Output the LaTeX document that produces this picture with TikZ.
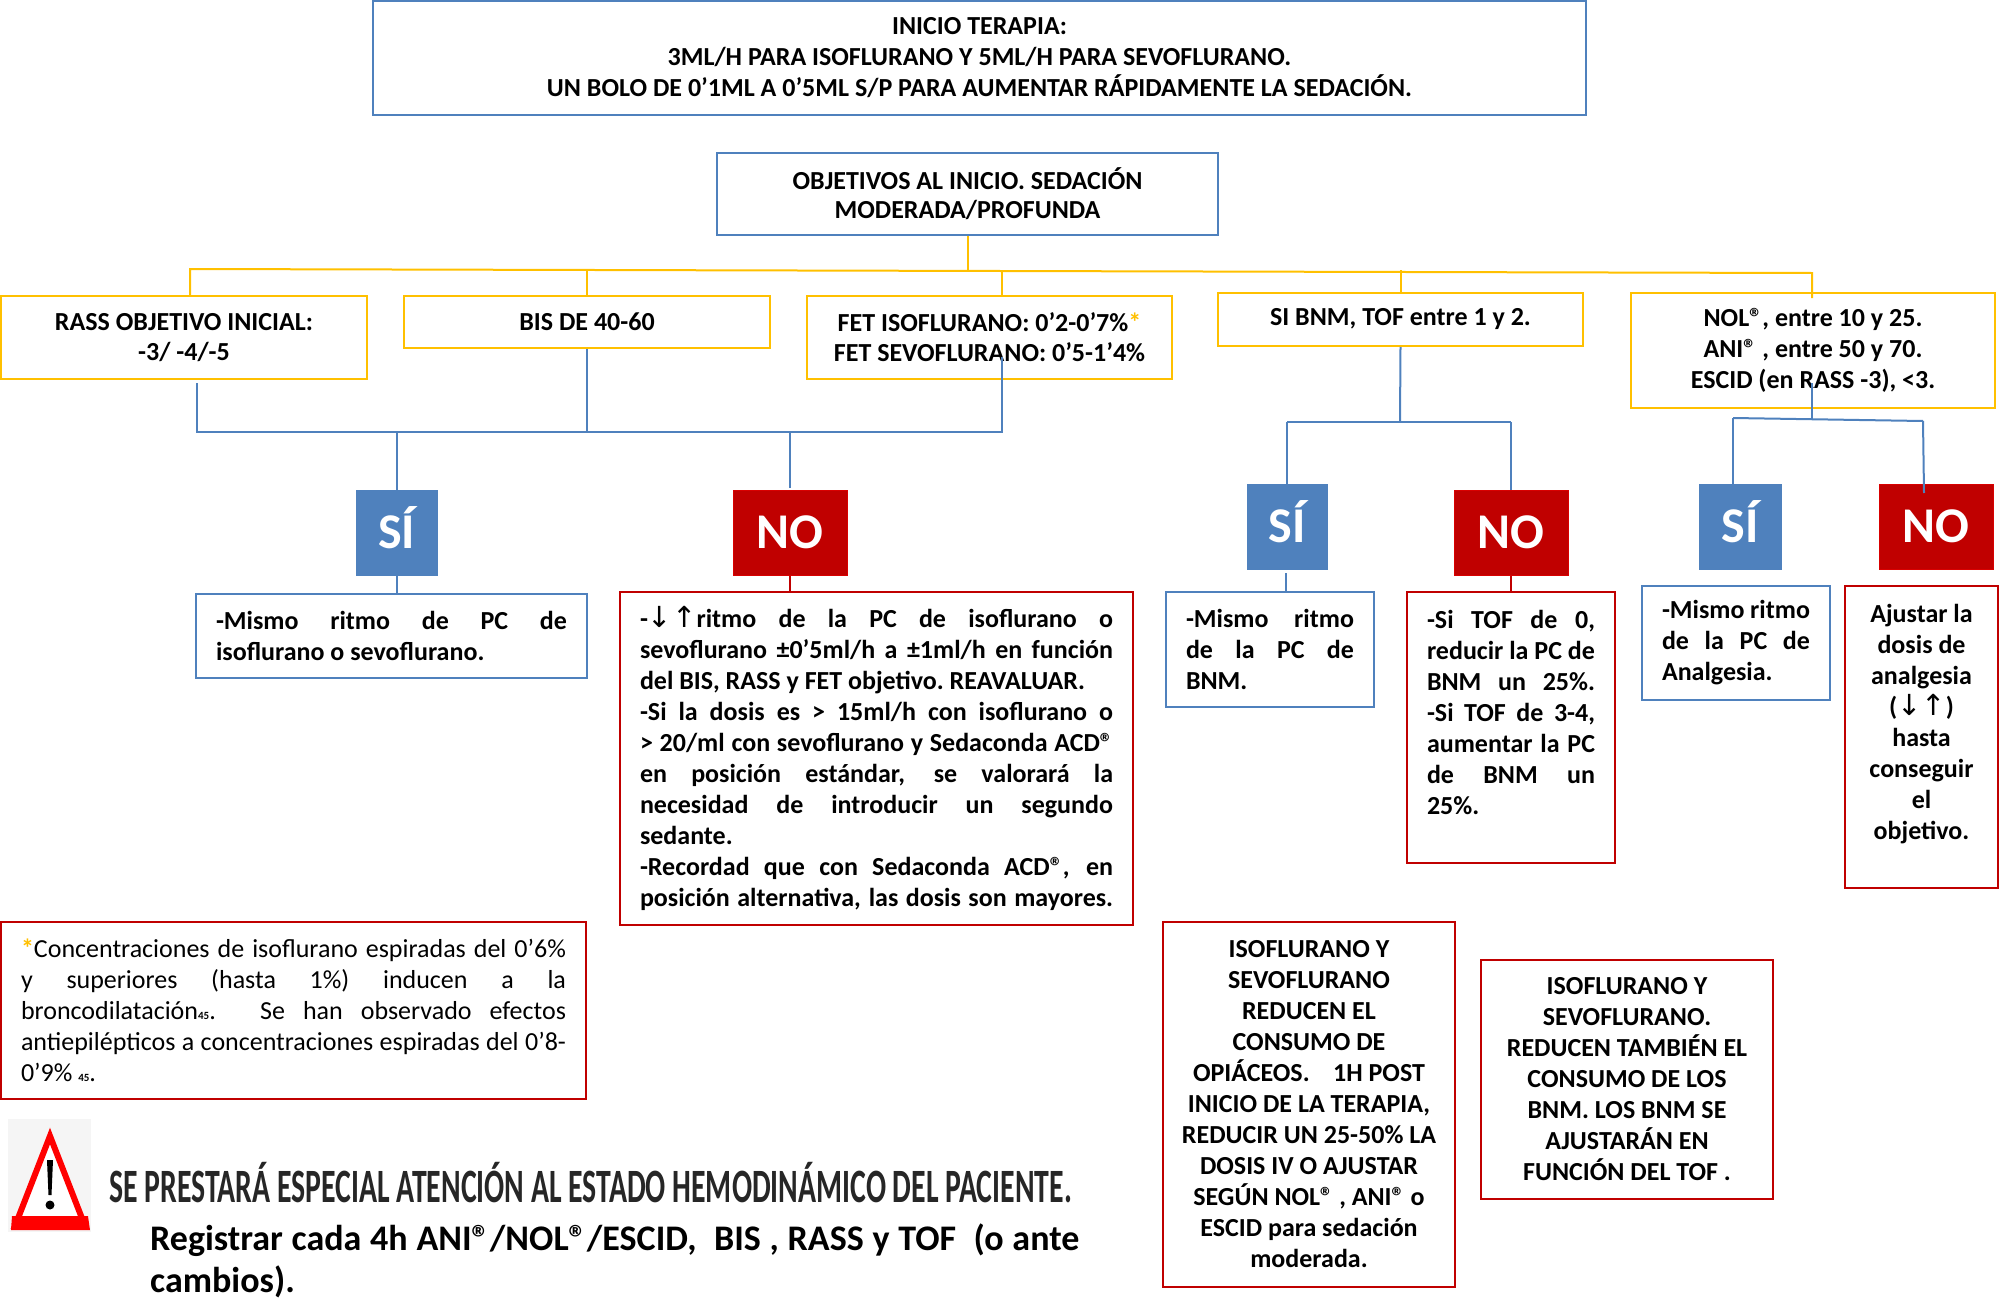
\documentclass[tikz,border=0pt]{standalone}
\usepackage{fontspec}
\setmainfont{Carlito}
\newfontfamily\arrowfont{DejaVu Sans}
\usetikzlibrary{calc}
\definecolor{lblue}{HTML}{4F81BD}
\definecolor{lred}{HTML}{C00000}
\definecolor{lyel}{HTML}{FFC000}
\newcommand{\natspace}{\spaceskip=\fontdimen2\font\relax\xspaceskip=\fontdimen2\font\relax}
\newcommand{\jl}[1]{\leavevmode\hbox to \tw pt{\spaceskip=0pt\relax\xspaceskip=0pt\relax #1}}
\newcommand{\arr}{{\arrowfont\mdseries\fontsize{29}{31}\selectfont ↓↑}}
\newcommand{\ymark}{{\color{lyel}\textbf{*}}}
\newcommand{\rfn}{{\fontsize{11}{31}\selectfont\textbf{45}}}
\newcommand{\bx}[7][]{%
  \pgfmathsetmacro\tw{#5-#3-40}%
  \pgfmathsetmacro\mw{#5-#3}%
  \pgfmathsetmacro\mh{#6-#4}%
  \node[#1,minimum width=\mw pt,minimum height=\mh pt,text width=\tw pt] (#2) at ({(#3+#5)/2},{(#4+#6)/2}) {\natspace #7};}
\newcommand{\tagbox}[7][]{%
  \pgfmathsetmacro\mw{#5-#3}%
  \pgfmathsetmacro\mh{#6-#4}%
  \node[#1,minimum width=\mw pt,minimum height=\mh pt] (#2) at ({(#3+#5)/2},{(#4+#6)/2}) {#7};}
\tikzset{
  base/.style={draw,fill=white,line width=2pt,inner sep=0pt,font=\fontsize{26}{31}\selectfont\bfseries},
  bluebox/.style={base,draw=lblue,align=center},
  yelbox/.style={base,draw=lyel,align=center},
  redbox/.style={base,draw=lred,align=center},
  jblue/.style={bluebox,align=left},
  jred/.style={redbox,align=left},
  footbox/.style={jred,font=\fontsize{26}{31}\selectfont},
  sitag/.style={fill=lblue,draw=lblue,line width=1pt,inner sep=0pt,text height=32pt,text depth=0pt,text=white,font=\fontsize{50}{50}\selectfont\bfseries},
  notag/.style={fill=lred,draw=red!85!black,line width=1pt,inner sep=0pt,text height=32pt,text depth=0pt,text=white,font=\fontsize{50}{50}\selectfont\bfseries},
  yline/.style={draw=lyel,line width=2pt},
  bline/.style={draw=lblue,line width=2pt},
  rline/.style={draw=lred,line width=2pt},
}
\begin{document}
\begin{tikzpicture}[x=1pt,y=-1pt]
\useasboundingbox (0,0) rectangle (2000,1298);
\bx[bluebox]{top}{373}{1}{1586}{115}{INICIO TERAPIA:\\3ML/H PARA ISOFLURANO Y 5ML/H PARA SEVOFLURANO.\\UN BOLO DE 0’1ML A 0’5ML S/P PARA AUMENTAR RÁPIDAMENTE LA SEDACIÓN.}
\bx[bluebox]{obj}{717}{153}{1218}{235}{OBJETIVOS AL INICIO. SEDACIÓN\\[-2pt]MODERADA/PROFUNDA}
\bx[yelbox]{rass}{1}{296}{367}{379}{RASS OBJETIVO INICIAL:\\[-1pt]-3/ -4/-5}
\bx[yelbox]{bis}{404}{296}{770}{348}{BIS DE 40-60}
\bx[yelbox]{fet}{807}{296}{1172}{379}{FET ISOFLURANO: 0’2-0’7\%\ymark\\[-1pt]FET SEVOFLURANO: 0’5-1’4\%}
\bx[yelbox]{bnm}{1218}{293}{1583}{346}{SI BNM, TOF entre 1 y 2.}
\bx[yelbox]{nol}{1631}{293}{1995}{408}{NOL®, entre 10 y 25.\\ANI® , entre 50 y 70.\\ESCID (en RASS -3), <3.}
\tagbox[sitag]{si1}{356}{490}{437}{575}{SÍ}
\tagbox[notag]{no1}{733}{490}{847}{575}{NO}
\tagbox[sitag]{si2}{1247}{484}{1327}{569}{SÍ}
\tagbox[notag]{no2}{1454}{490}{1568}{575}{NO}
\tagbox[sitag]{si3}{1699}{484}{1781}{569}{SÍ}
\tagbox[notag]{no3}{1879}{484}{1993}{569}{NO}
\bx[jblue]{asi1}{196}{594}{587}{678}{\jl{-Mismo ritmo de PC de}\\isoflurano o sevoflurano.}
\bx[jred]{ano1}{620}{592}{1133}{925}{\jl{-\arr ritmo de la PC de isoflurano o}\\\jl{sevoflurano ±0’5ml/h a ±1ml/h en función}\\del BIS, RASS y FET objetivo. REAVALUAR.\\\jl{-Si la dosis es > 15ml/h con isoflurano o}\\\jl{> 20/ml con sevoflurano y Sedaconda ACD®}\\\jl{en posición estándar, se valorará la}\\\jl{necesidad de introducir un segundo}\\sedante.\\\jl{-Recordad que con Sedaconda ACD®, en}\\\jl{posición alternativa, las dosis son mayores.}}
\bx[jblue]{asi2}{1166}{592}{1374}{707}{\jl{-Mismo ritmo}\\\jl{de la PC de}\\BNM.}
\bx[jred]{ano2}{1407}{592}{1615}{863}{\jl{-Si TOF de 0,}\\\jl{reducir la PC de}\\\jl{BNM un 25\%.}\\\jl{-Si TOF de 3-4,}\\\jl{aumentar la PC}\\\jl{de BNM un}\\25\%.\\\mbox{}}
\bx[jblue]{asi3}{1642}{586}{1830}{700}{\jl{-Mismo ritmo}\\\jl{de la PC de}\\Analgesia.}
\bx[redbox]{ano3}{1845}{586}{1998}{888}{Ajustar la\\dosis de\\analgesia\\(\arr)\\hasta\\conseguir\\el\\objetivo.\\\mbox{}}
\bx[footbox]{foot}{1}{922}{586}{1099}{\jl{\ymark Concentraciones de isoflurano espiradas del 0’6\%}\\\jl{y superiores (hasta 1\%) inducen a la}\\\jl{broncodilatación\rfn. Se han observado efectos}\\\jl{antiepilépticos a concentraciones espiradas del 0’8-}\\0’9\% \rfn.}
\bx[redbox]{iso1}{1163}{922}{1455}{1287}{ISOFLURANO Y\\SEVOFLURANO\\REDUCEN EL\\CONSUMO DE\\OPIÁCEOS. \ \ \ 1H POST\\\mbox{INICIO DE LA TERAPIA,}\\\makebox[\tw pt]{REDUCIR UN 25-50\% LA}\\DOSIS IV O AJUSTAR\\SEGÚN NOL® , ANI® o\\ESCID para sedación\\moderada.}
\bx[redbox]{iso2}{1481}{960}{1773}{1199}{ISOFLURANO Y\\SEVOFLURANO.\\REDUCEN TAMBIÉN EL\\CONSUMO DE LOS\\BNM. LOS BNM SE\\AJUSTARÁN EN\\FUNCIÓN DEL TOF .}
% yellow tree
\coordinate (yl) at (190,269);
\coordinate (yr) at (1812,273);
\coordinate (yrass) at (190,296);
\coordinate (yfetb) at (1002,270);
\coordinate (ynol) at (1812,298);
\draw[yline] (obj.south) -- ($(obj.south)+(0,34)$);
\draw[yline] (yrass) -- (yl) -- (yr) -- (ynol);
\draw[yline] (bis.north) -- ($(bis.north)+(0,-26)$);
\draw[yline] (fet.north -| yfetb) -- (yfetb);
\draw[yline] (bnm.north) -- ($(bnm.north)+(0,-22)$);
% blue tree left
\coordinate (brass) at (196.5,383);
\coordinate (bfet) at (1002,357);
\coordinate (bj) at (196.5,432);
\coordinate (bjr) at (1002,432);
\coordinate (nob1) at (790,488);
\draw[bline] (brass) -- (bj) -- (bjr) -- (bfet);
\draw[bline] (bis.south) -- (bis.south |- bj);
\draw[bline] (si1.north) -- (si1.north |- bj);
\draw[bline] (nob1) -- (nob1 |- bj);
\draw[bline] (si1.south) -- (si1.south |- asi1.north);
\draw[rline] (no1.south) -- (no1.south |- ano1.north);
% blue tree BNM
\coordinate (bn) at (1400,422);
\coordinate (si2b) at (1286,573);
\draw[bline] (bnm.south) -- (bn);
\draw[bline] (si2.north |- bn) -- (no2.north |- bn);
\draw[bline] (si2.north) -- (si2.north |- bn);
\draw[bline] (no2.north) -- (no2.north |- bn);
\draw[bline] (si2b) -- (si2b |- asi2.north);
\draw[rline] (no2.south) -- (no2.south |- ano2.north);
% blue tree NOL
\coordinate (nt) at (1812,383);
\coordinate (nb) at (1812,420);
\coordinate (nl) at (1733,418);
\coordinate (nr) at (1923,421);
\coordinate (nlb) at (1733,484);
\coordinate (nrb) at (1924,493);
\draw[bline] (nt) -- (nb);
\draw[bline] (nl) -- (nr);
\draw[bline] (nl) -- (nlb);
\draw[bline] (nr) -- (nrb);
% warning sign
\fill[gray!8] (8,1119) rectangle (91,1232);
\draw[red,line width=6pt,line join=miter,fill=white] (50,1136) -- (85,1226) -- (15,1226) -- cycle;
\fill[red] (12,1216) -- (88,1216) -- (90,1230) -- (11,1230) -- cycle;
\fill[black] (47,1160) -- (53,1160) -- (51.5,1195) -- (48.5,1195) -- cycle;
\fill[black] (50,1205) circle (4.5);
\node[anchor=base west,inner sep=0pt,font=\fontsize{36}{40}\selectfont\bfseries,text=black!85] (warn) at (109,1202) {\scalebox{0.827}[1.33]{SE PRESTARÁ ESPECIAL ATENCIÓN AL ESTADO HEMODINÁMICO DEL PACIENTE.}};
\pgfmathsetmacro\tw{929}
\node[anchor=north west,inner sep=0pt,text width=929pt,align=left,font=\fontsize{36}{42}\selectfont\bfseries] (reg) at (150,1224) {\natspace\jl{Registrar cada 4h ANI®/NOL®/ESCID, \ BIS , RASS y TOF \ (o ante}\\cambios).};
\end{tikzpicture}
\end{document}
